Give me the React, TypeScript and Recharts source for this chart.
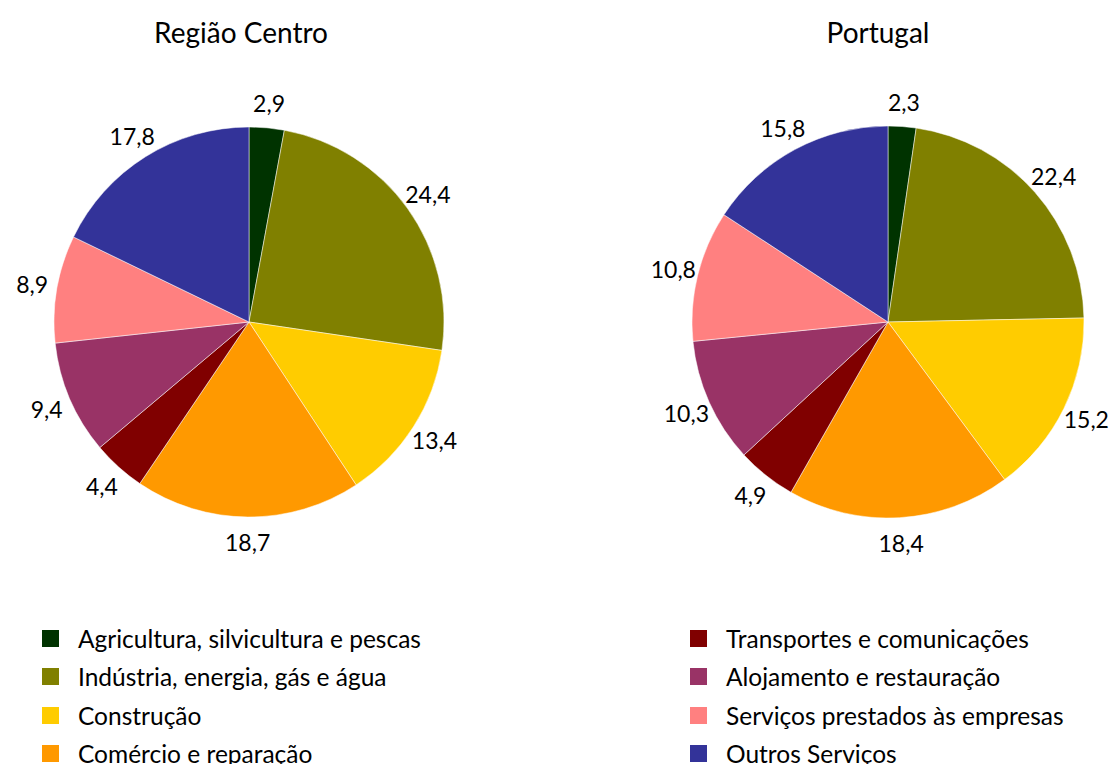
import React from "react";
import { PieChart, Pie, Cell } from "recharts";

const sectors = [
  "Agricultura, silvicultura e pescas",
  "Indústria, energia, gás e água",
  "Construção",
  "Comércio e reparação",
  "Transportes e comunicações",
  "Alojamento e restauração",
  "Serviços prestados às empresas",
  "Outros Serviços",
];

const regiaoCentro = [2.9, 24.4, 13.4, 18.7, 4.4, 9.4, 8.9, 17.8];
const portugal = [2.3, 22.4, 15.2, 18.4, 4.9, 10.3, 10.8, 15.8];

const colors = ["#003300", "#808000", "#FFCC00", "#FF9900", "#800000", "#993366", "#FF8080", "#333399"];

const FONT = "Lato, 'Open Sans', sans-serif";
const RADIAN = Math.PI / 180;

const toRows = (vals: number[]) => sectors.map((name, i) => ({ name, value: vals[i] }));

function renderLabel(props: any) {
  const { cx, cy, midAngle, outerRadius, value } = props;
  const r = outerRadius + 25;
  const x = cx + r * Math.cos(-midAngle * RADIAN);
  const y = cy + r * Math.sin(-midAngle * RADIAN);
  return (
    <text x={x} y={y} textAnchor="middle" dominantBaseline="central" fill="#000" fontSize={23} fontFamily={FONT}>
      {value.toFixed(1).replace(".", ",")}
    </text>
  );
}

export default function App() {
  const titleStyle: React.CSSProperties = {
    position: "absolute",
    top: 14,
    fontSize: 28,
    lineHeight: "36px",
    fontFamily: FONT,
    color: "#000",
    transform: "translateX(-50%)",
    whiteSpace: "nowrap",
  };
  return (
    <div style={{ position: "absolute", left: 0, top: 0, width: 1120, height: 764, overflow: "hidden", background: "#fff" }}>
      <div style={{ ...titleStyle, left: 241 }}>Região Centro</div>
      <div style={{ ...titleStyle, left: 878 }}>Portugal</div>
      <div style={{ position: "absolute", left: 0, top: 0 }}>
        <PieChart width={1120} height={600} margin={{ top: 0, right: 0, bottom: 0, left: 0 }}>
          <Pie
            data={toRows(regiaoCentro)}
            dataKey="value"
            cx={249}
            cy={322}
            outerRadius={195}
            startAngle={90}
            endAngle={-270}
            stroke="#ffffff"
            strokeWidth={0.5}
            label={renderLabel}
            labelLine={false}
            isAnimationActive={false}
          >
            {regiaoCentro.map((_, i) => (
              <Cell key={i} fill={colors[i]} />
            ))}
          </Pie>
          <Pie
            data={toRows(portugal)}
            dataKey="value"
            cx={888}
            cy={322}
            outerRadius={196}
            startAngle={90}
            endAngle={-270}
            stroke="#ffffff"
            strokeWidth={0.5}
            label={renderLabel}
            labelLine={false}
            isAnimationActive={false}
          >
            {portugal.map((_, i) => (
              <Cell key={i} fill={colors[i]} />
            ))}
          </Pie>
        </PieChart>
      </div>
      {sectors.map((name, i) => {
        const col = i < 4 ? 0 : 1;
        const row = i % 4;
        return (
          <div
            key={name}
            style={{
              position: "absolute",
              left: col === 0 ? 42 : 690,
              top: 638 + row * 38.5 - 14,
              height: 28,
              display: "flex",
              alignItems: "center",
              fontFamily: FONT,
              fontSize: 24.5,
              color: "#000",
              whiteSpace: "nowrap",
            }}
          >
            <span style={{ display: "inline-block", width: 17, height: 17, background: colors[i], marginRight: 19 }} />
            {name}
          </div>
        );
      })}
    </div>
  );
}
